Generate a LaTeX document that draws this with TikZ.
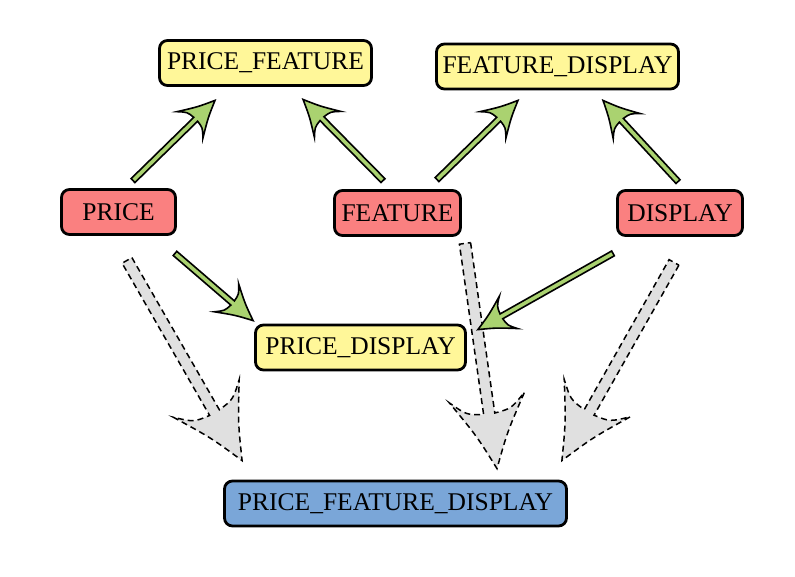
\documentclass[tikz,border=0pt]{standalone}
\usepackage{fontspec}
\setmainfont{Liberation Serif}
\usetikzlibrary{calc}
\definecolor{onered}{RGB}{250,128,128}
\definecolor{twoyellow}{RGB}{255,247,153}
\definecolor{threeblue}{RGB}{122,166,216}
\definecolor{arrowgreen}{RGB}{170,210,112}
\definecolor{arrowgray}{RGB}{224,224,224}

\tikzset{
  box/.style={draw, line width=2.8pt, rounded corners=8pt, minimum height=45pt,
    inner sep=0pt, font=\fontsize{25.5}{30}\selectfont},
  onebox/.style={box, fill=onered},
  twobox/.style={box, fill=twoyellow},
  threebox/.style={box, fill=threeblue},
  greenarrow/.style={draw, fill=arrowgreen, line width=1.6pt},
  grayarrow/.style={draw, fill=arrowgray, line width=1.5pt, dash pattern=on 6pt off 4pt},
}

% fat arrow: [style]{size}{from}{to}
\newcommand{\fatarrow}[4][]{%
  \path let \p1=(#3), \p2=(#4) in \pgfextra{%
    \pgfmathsetmacro{\arrowang}{atan2(\y2-\y1,\x2-\x1)}%
    \pgfmathsetmacro{\arrowlen}{veclen(\x2-\x1,\y2-\y1)}%
    \xdef\arrowang{\arrowang}\xdef\arrowlen{\arrowlen}};
  \begin{scope}[shift={(#3)}, rotate=\arrowang, x=#2pt, y=#2pt]
    \pgfmathsetmacro{\arrowend}{\arrowlen/#2}
    \path[#1] (0,2.75) -- ({\arrowend-27},2.75)
      .. controls ({\arrowend-28},11) .. ({\arrowend-35},18.5)
      .. controls ({\arrowend-17},7.5) .. (\arrowend,0)
      .. controls ({\arrowend-17},-7.5) .. ({\arrowend-35},-18.5)
      .. controls ({\arrowend-28},-11) .. ({\arrowend-27},-2.75)
      -- (0,-2.75) -- cycle;
  \end{scope}}

\begin{document}
\begin{tikzpicture}[x=1pt, y=-1pt]
\useasboundingbox (0,0) rectangle (795,576);
% nodes
\node[twobox, minimum width=212pt] (pf) at (265.5,63) {PRICE\_FEATURE};
\node[twobox, minimum width=242pt] (fd) at (557.5,66.5) {FEATURE\_DISPLAY};
\node[onebox, minimum width=114pt] (price) at (118.5,212) {PRICE};
\node[onebox, minimum width=126pt] (feature) at (397.5,213) {FEATURE};
\node[onebox, minimum width=125pt] (display) at (680,213) {DISPLAY};
\node[twobox, minimum width=210pt] (pd) at (360.5,347.5) {PRICE\_DISPLAY};
\node[threebox, minimum width=342pt] (pfd) at (395.5,503.5) {PRICE\_FEATURE\_DISPLAY};
% dashed arrows to the triple
\fatarrow[grayarrow]{2.05}{$(price.south)+(8.5,24.5)$}{$(pfd.north west)+(19,-19)$}
\fatarrow[grayarrow]{2.05}{$(feature.south)+(67.5,6.5)$}{$(pfd.north)+(101.5,-11)$}
\fatarrow[grayarrow]{2.05}{$(display.south)+(-6,25.5)$}{$(pfd.north east)+(-6,-19)$}
% arrows to the pairs
\fatarrow[greenarrow]{1}{$(price.north)+(14.5,-7.5)$}{$(pf.south)+(-50.5,13.5)$}
\fatarrow[greenarrow]{1}{$(feature.north)+(-14.5,-8.5)$}{$(pf.south)+(37.5,12.5)$}
\fatarrow[greenarrow]{1}{$(feature.north)+(39.5,-9.5)$}{$(fd.south)+(-39.5,10)$}
\fatarrow[greenarrow]{1}{$(display.north)+(-2,-7.5)$}{$(fd.south)+(45.5,10)$}
\fatarrow[greenarrow]{1}{$(price.south)+(56.5,17.5)$}{$(pd.north west)+(-1,-3)$}
\fatarrow[greenarrow]{1}{$(display.south)+(-67,16.5)$}{$(pd.north east)+(11,6)$}
\end{tikzpicture}
\end{document}
